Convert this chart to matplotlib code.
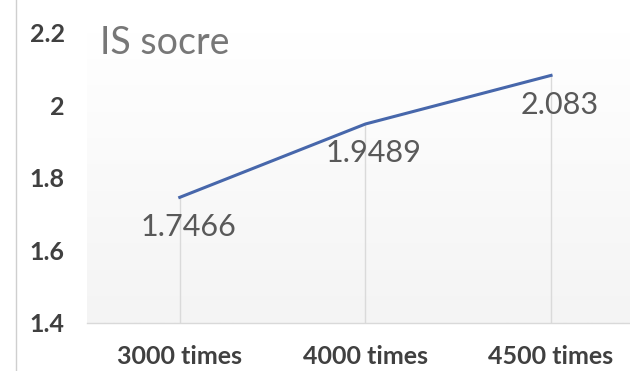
import numpy as np
import matplotlib.pyplot as plt
from matplotlib.colors import LinearSegmentedColormap

categories = ["3000 times", "4000 times", "4500 times"]
scores = [1.7466, 1.9489, 2.083]
yticks = [1.4, 1.6, 1.8, 2.0, 2.2]
ytick_labels = ["1.4", "1.6", "1.8", "2", "2.2"]

plt.rcParams['font.family'] = ['Lato', 'DejaVu Sans']

fig = plt.figure(figsize=(6.30, 3.71), dpi=100)
ax = fig.add_axes([0.138, 0.1294, 0.884, 0.7817])

x = np.arange(len(categories))
ax.set_xlim(-0.5, 2.5)
ax.set_ylim(1.4, 2.2)

# very faint grey wash behind the plot, white at the top
grad = np.linspace(0.0, 1.0, 256).reshape(-1, 1)
bg = LinearSegmentedColormap.from_list('bg', ['#f4f4f4', '#ffffff'])
ax.imshow(grad, extent=(-0.5, 2.5, 1.4, 2.2), aspect='auto', origin='lower',
          cmap=bg, zorder=0)

# drop lines from each point to the axis
ax.vlines(x, 1.4, scores, color='#dadada', lw=1.0, zorder=1)
ax.plot(x, scores, color='#4767ab', lw=2.2, zorder=3)

for xi, v in zip(x, scores):
    ax.annotate(f"{v:g}", (xi, v), xytext=(6, -21), textcoords='offset points',
                ha='center', va='center', fontsize=22, color='#595959', zorder=4)

for s in ['top', 'right', 'left']:
    ax.spines[s].set_visible(False)
ax.spines['bottom'].set_color('#d9d9d9')
ax.spines['bottom'].set_linewidth(1.0)

ax.set_xticks(x)
ax.set_xticklabels(categories, fontsize=18, color='#404040', fontweight='bold')
ax.set_yticks(yticks)
ax.set_yticklabels(ytick_labels, fontsize=18, color='#404040', fontweight='bold')
ax.tick_params(length=0)
ax.tick_params(axis='x', pad=16)
ax.tick_params(axis='y', pad=16)

fig.text(0.158, 0.885, "IS socre", fontsize=27, color='#777777', va='center', ha='left')

# thin frame line on the left edge
fig.add_artist(plt.Line2D([0.026, 0.026], [0.0, 1.0], color='#cfcfcf', lw=1.0))

fig.savefig("out.png", dpi=100)
